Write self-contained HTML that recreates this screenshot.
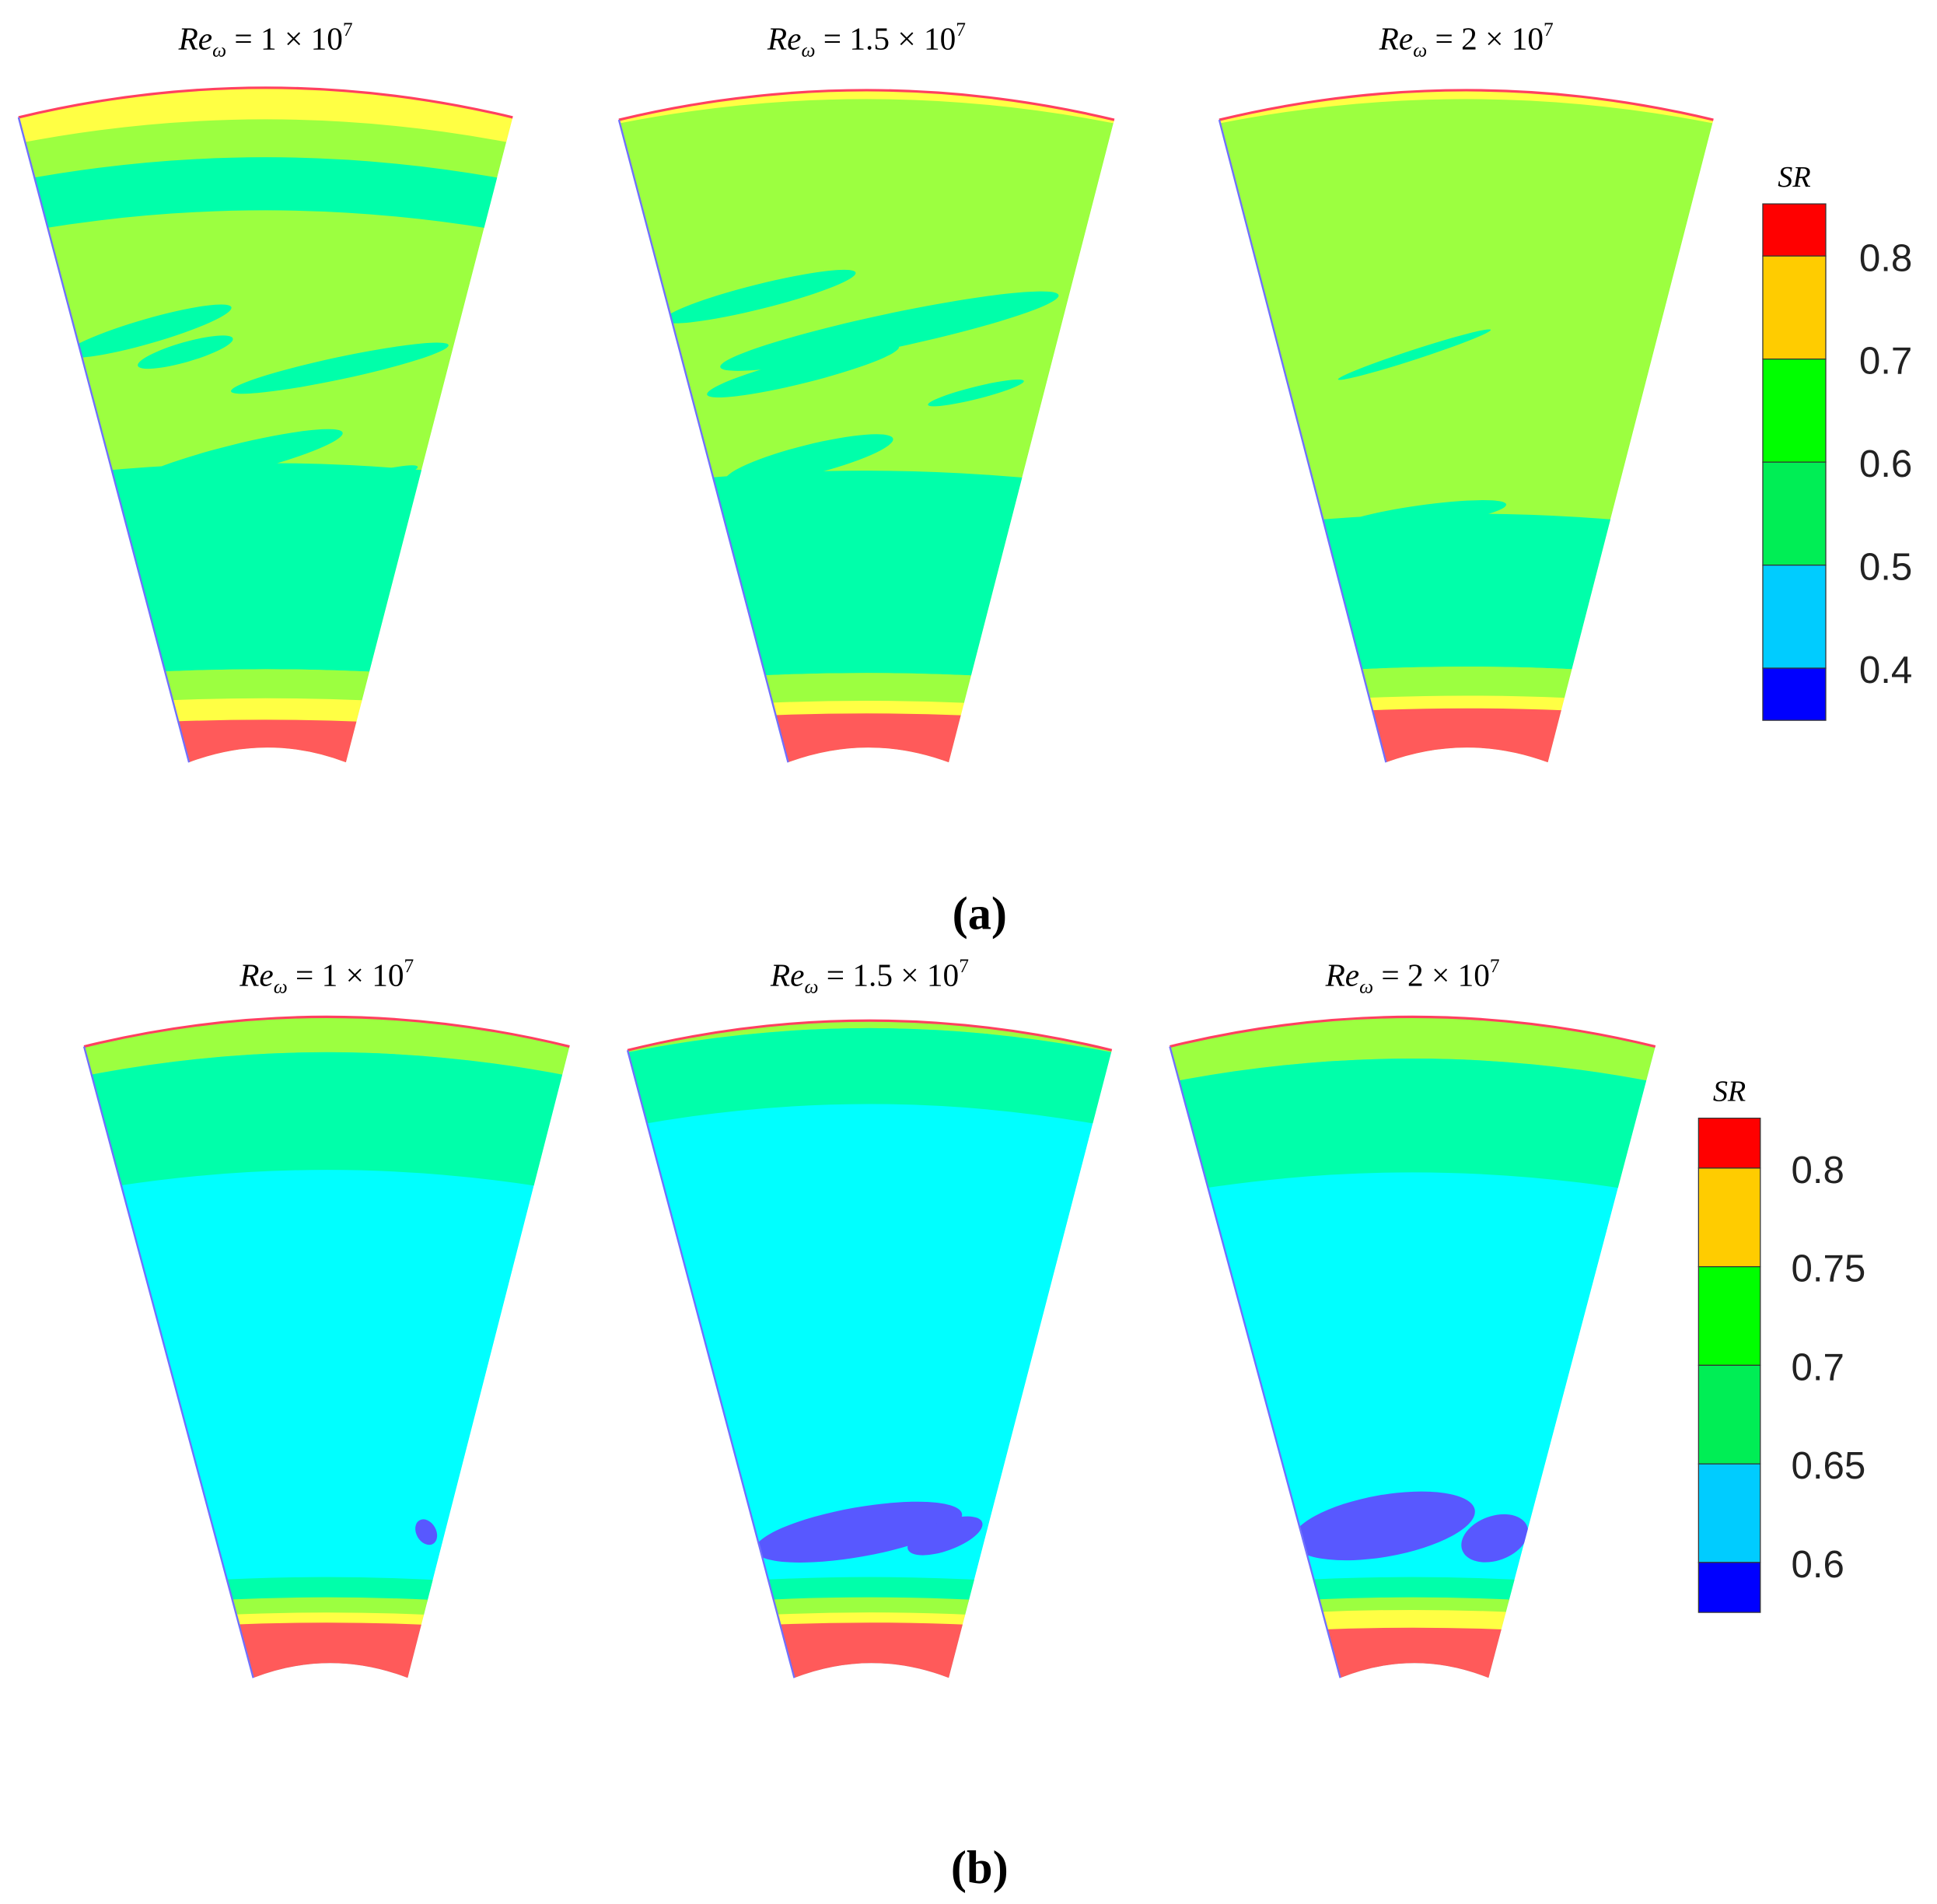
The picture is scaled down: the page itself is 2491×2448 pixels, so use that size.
<!DOCTYPE html>
<html><head><meta charset="utf-8"><style>
html,body{margin:0;padding:0;background:#fff;}
svg{display:block;}
text{font-family:"Liberation Serif",serif;}
.lab{font-family:"Liberation Sans",sans-serif;font-size:31px;fill:#222;}
</style></head><body>
<svg id="fig" width="2491" height="2448" viewBox="0 0 1568 1541" xmlns="http://www.w3.org/2000/svg">
<defs id="defs"></defs>
<g id="panels"></g>
<g id="bars"></g>
<text x="793" y="752" text-anchor="middle" font-size="38" font-weight="bold">(a)</text>
<text x="793" y="1524" text-anchor="middle" font-size="38" font-weight="bold">(b)</text>
</svg>
<script>
const NS="http://www.w3.org/2000/svg";
const C={r:"#ff5a5a",y:"#ffff44",g:"#9cff40",t:"#00ffaa",c:"#00ffff",p:"#5858ff"};
const panelTitles=["1","1.5","2","1","1.5","2"];
const panelGeo=[
 [15,95,415,153,280,617],[501,97,902,638,768,617],[987,97,1387,1122,1253,617],
 [68,847,461,205,330,1358],[508,850,900,643,768,1358],[947,847,1340,1085,1205,1358]];
const panelBase=["g","g","g","c","c","c"];
const panelBands=[
 [[60,120,"y"],[150,192,"t"],[392,555,"t"],[555,580,"g"],[578,597,"y"],[595,640,"r"]],
 [[60,104,"y"],[398,558,"t"],[558,582,"g"],[580,592,"y"],[590,640,"r"]],
 [[60,104,"y"],[432,553,"t"],[553,578,"g"],[576,588,"y"],[586,640,"r"]],
 [[810,875,"g"],[875,968,"t"],[1290,1308,"t"],[1306,1320,"g"],[1318,1328,"y"],[1326,1380,"r"]],
 [[810,856,"g"],[856,916,"t"],[1290,1308,"t"],[1306,1320,"g"],[1318,1328,"y"],[1326,1380,"r"]],
 [[810,880,"g"],[880,970,"t"],[1290,1308,"t"],[1306,1318,"g"],[1316,1332,"y"],[1330,1380,"r"]]];
const panelStreaks=[
 [[120,268,70,10,-16,"t"],[150,285,40,8,-16,"t"],[275,298,90,9,-12,"t"],[190,372,90,12,-14,"t"],[285,392,55,6,-15,"t"]],
 [[615,240,80,10,-14,"t"],[720,268,140,14,-12,"t"],[650,300,80,10,-14,"t"],[655,372,70,12,-14,"t"],[790,318,40,5,-14,"t"]],
 [[1145,287,65,4,-18,"t"],[1150,418,70,9,-8,"t"]],
 [[345,1240,8,11,-30,"p"]],
 [[695,1240,85,20,-10,"p"],[765,1243,32,12,-20,"p"]],
 [[1120,1235,75,25,-10,"p"],[1210,1245,28,18,-20,"p"]]];
const barLevels=[["0.8","0.7","0.6","0.5","0.4"],["0.8","0.75","0.7","0.65","0.6"]];
const barColors=["#ff0000","#ffcc00","#00ff00","#00ee55","#00ccff","#0000ff"];
const barGeo=[[1427,165,1478,583,1505],[1375,905,1425,1305,1450]];

const panels=document.getElementById("panels"),defs=document.getElementById("defs");
function mk(tag,attrs,parent){const e=document.createElementNS(NS,tag);for(const k in attrs)e.setAttribute(k,attrs[k]);parent.appendChild(e);return e;}
panelGeo.forEach((g,i)=>{
 const [x0,yt,x1,bx0,bx1,yb]=g, cx=(x0+x1)/2, bcx=(bx0+bx1)/2;
 const d=`M${x0},${yt} Q${cx},${yt-48} ${x1},${yt} L${bx1},${yb} Q${bcx},${yb-24} ${bx0},${yb} Z`;
 const cp=mk("clipPath",{id:"cp"+i},defs);mk("path",{d:d},cp);
 const grp=mk("g",{"clip-path":"url(#cp"+i+")"},panels);
 
 
 mk("path",{d:d,fill:C[panelBase[i]]},grp);
 const off=y=>{const f=Math.max(0,Math.min(1,(y-yt)/(yb-yt)));return 48-f*24;};
 panelBands[i].forEach(b=>{
  const [a,z,c]=b;
  const p=mk("path",{d:`M${x0-20},${a} Q${cx},${a-off(a)} ${x1+20},${a} L${x1+20},${z} Q${cx},${z-off(z)} ${x0-20},${z} Z`,fill:C[c]},grp);
  
  
 });
 panelStreaks[i].forEach(s=>{
  const e=mk("ellipse",{cx:s[0],cy:s[1],rx:s[2],ry:s[3],transform:`rotate(${s[4]} ${s[0]} ${s[1]})`,fill:C[s[5]]},grp);
  
  
 });
 mk("path",{d:`M${x0},${yt} Q${cx},${yt-48} ${x1},${yt}`,fill:"none",stroke:"#ff4060","stroke-width":2},panels);
 mk("path",{d:`M${x0},${yt} L${bx0},${yb}`,fill:"none",stroke:"#7070ff","stroke-width":1.5},panels);
 const t=mk("text",{x:cx,y:(i<3?40:798),"text-anchor":"middle","font-size":"26","font-style":"italic"},panels);
 
 
 t.innerHTML=`Re<tspan font-size="16" dy="6">ω</tspan><tspan dy="-6" font-style="normal"> = ${panelTitles[i]} × 10</tspan><tspan font-size="16" dy="-11" font-style="normal">7</tspan>`;
});
const bars=document.getElementById("bars");
barGeo.forEach((b,j)=>{
 const [x0,y0,x1,y1,lx]=b, n=barColors.length, first=(y1-y0)/9.9, seg=(y1-y0-2*first)/4;
 const g=mk("g",{},bars);
 
 
 barColors.forEach((c,k)=>{
  const ya=k==0?y0:y0+first+(k-1)*seg, h=(k==0||k==n-1)?first:seg;
  mk("rect",{x:x0,y:ya,width:x1-x0,height:h,fill:c,stroke:"#333","stroke-width":0.8},g);
 });
 barLevels[j].forEach((v,k)=>{
  const t=mk("text",{x:lx,y:y0+first+k*seg+12,class:"lab"},g);
  
  
  t.textContent=v;
 });
 const s=mk("text",{x:(x0+x1)/2,y:y0-14,"text-anchor":"middle","font-size":"24","font-style":"italic"},g);
 
 
 s.textContent="SR";
});
</script>
</body></html>
